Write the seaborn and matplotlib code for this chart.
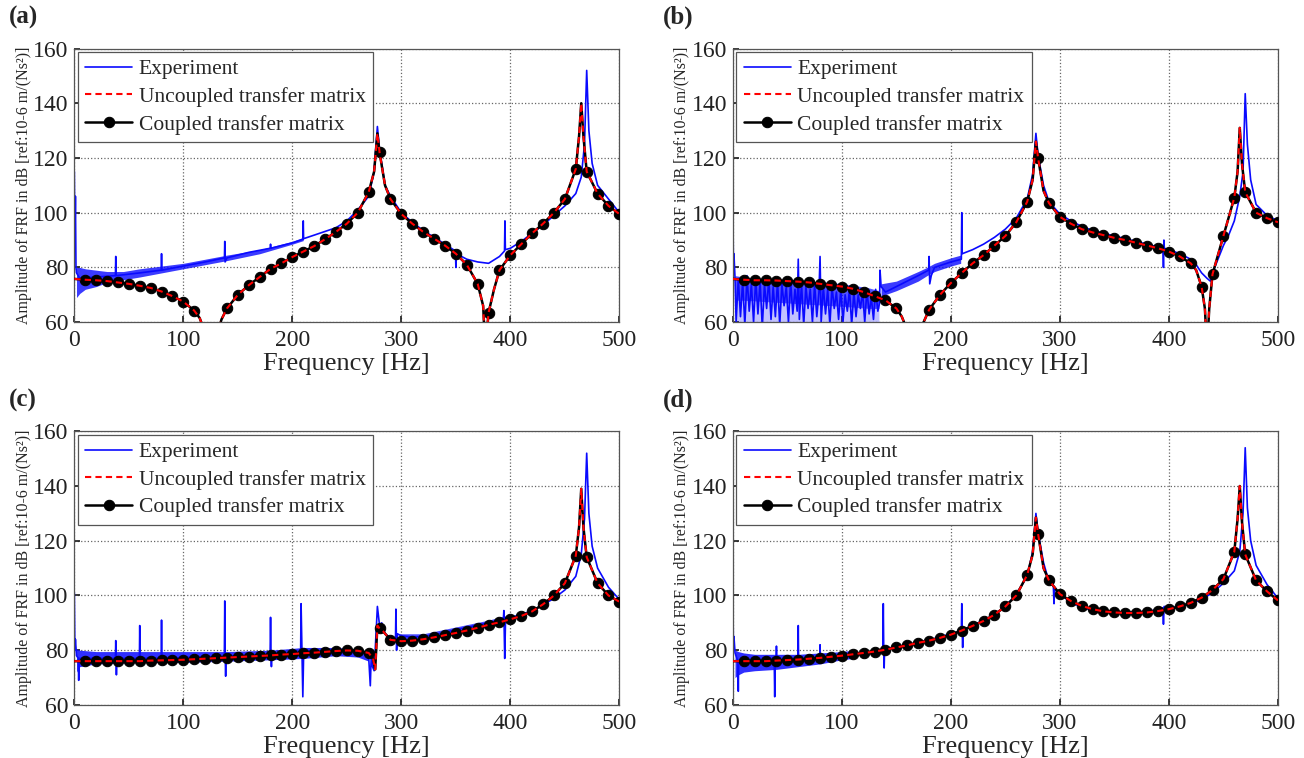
import matplotlib
matplotlib.use("Agg")
import matplotlib.pyplot as plt
import seaborn as sns

# ---- axis / text ----
freq_ticks = [0, 100, 200, 300, 400, 500]
db_ticks = [60, 80, 100, 120, 140, 160]
panel_labels = ["(a)", "(b)", "(c)", "(d)"]
legend_labels = ["Experiment", "Uncoupled transfer matrix", "Coupled transfer matrix"]
xlabel = "Frequency [Hz]"
ylabel = "Amplitude of FRF in dB [ref:10-6 m/(Ns²)]"

# ---- panel (a) ----
model_a_f = [0, 10, 20, 30, 40, 50, 60, 70, 80, 90, 100, 110, 115, 120, 125, 130, 135,
             140, 150, 160, 170, 180, 190, 200, 210, 220, 230, 240, 250, 260, 270,
             275, 278, 280, 285, 290, 300, 310, 320, 330, 340, 350, 360, 370,
             375, 377, 380, 385, 390, 400, 410, 420, 430, 440, 450, 460,
             463, 465, 467, 470, 480, 490, 500]
model_a_db = [75.8, 75.5, 75.3, 75.0, 74.5, 74.0, 73.3, 72.5, 71.2, 69.5, 67.5, 64.2, 61.5, 56, 45, 54, 61,
              65, 70, 73.5, 76.5, 79.5, 81.5, 83.8, 85.8, 87.8, 90.3, 93, 96, 100, 107.5,
              115, 129, 122, 110, 105, 99.5, 96, 93, 90.5, 88, 85, 81, 74,
              66, 50, 63.5, 72, 79, 84.5, 88.5, 92.5, 96, 100, 105, 116,
              128, 140, 128, 115, 107, 102.5, 99.5]
exp_a_f = [0, 0.5, 1, 1.5, 2, 5, 20, 37.7, 38, 38.3, 60, 79.7, 80, 80.3, 100, 120,
           137.7, 138, 138.3, 140, 160, 179.7, 180, 180.3, 200, 209.7, 210, 210.3,
           220, 240, 250, 260, 270, 275, 278, 280, 285, 290, 300, 310, 320, 330, 340,
           349.6, 350, 350.4, 360, 370, 380, 390, 394.6, 395, 395.4,
           400, 410, 420, 430, 440, 450, 460, 465, 468, 470, 472, 475, 480, 490, 500]
exp_a_db = [115, 88, 106, 80, 78, 76, 76.5, 77, 84, 77, 78, 79, 85, 79, 80.5, 82,
            83.5, 89.5, 82, 83.5, 85.5, 87, 88.5, 87, 89, 90.3, 97, 90.5,
            91.8, 94.5, 97, 101, 106, 115, 131.5, 123, 110, 106, 100, 96.5, 93.5, 91, 88.5,
            86, 80, 85, 83, 82, 81.5, 84, 86, 97, 86.5,
            87, 89.5, 92.5, 95.5, 99, 102.5, 107, 113, 125, 152, 130, 118, 110, 105, 100]
band_a_f = [2, 5, 10, 20, 30, 45, 60, 80, 100, 120, 140, 170, 200, 210]
band_a_lo = [69, 70.5, 72, 73, 74.5, 75.5, 76.5, 78, 79.5, 81, 82.5, 85, 88.5, 89.8]
band_a_hi = [80, 80, 79.5, 79, 78.5, 78.5, 79.5, 80.5, 81.5, 83, 84.5, 86.5, 89.5, 91]

# ---- panel (b) ----
model_b_f = [0, 10, 20, 30, 40, 50, 60, 70, 80, 90, 100, 110, 120, 130, 140, 150,
             155, 160, 165, 170, 175, 180, 190, 200, 210, 220, 230, 240, 250, 260, 270,
             275, 278, 280, 285, 290, 300, 310, 320, 330, 340, 350, 360, 370, 380, 390,
             400, 410, 420, 425, 430, 433, 435, 437, 440, 450, 460,
             463, 465, 467, 470, 480, 490, 500]
model_b_db = [75.8, 75.5, 75.3, 75.3, 75.2, 75, 74.8, 74.5, 74, 73.5, 73, 72.2, 71, 69.5, 68, 65,
              62, 57, 45, 56, 60, 64.5, 70, 74.3, 78, 81.5, 84.5, 88, 91.5, 96.5, 104,
              112, 126, 120, 108, 103.5, 98.5, 96, 94, 92.8, 91.8, 90.8, 90, 89, 88, 87,
              85.8, 84, 81.5, 79, 73, 65, 50, 65, 77.5, 91.5, 105.5,
              115, 131, 118, 107.5, 100, 98, 96.5]
exp_b_f = [0, 0.5, 1, 2,
           3, 5, 7, 9, 11, 13, 15, 17, 19, 21, 23, 25, 27, 29, 31, 33, 35, 37, 39, 41,
           43, 45, 47, 49, 51, 53, 55, 57, 59, 60, 61, 63, 65, 67, 69, 71, 73, 75, 77, 79,
           80, 81, 83, 85, 87, 89, 91, 93, 95, 97, 99, 101, 103, 105, 107, 109, 111, 113,
           115, 117, 119, 121, 123, 125, 127, 129, 131, 133,
           134.6, 135, 136,
           140, 150, 160, 170, 179.6, 180, 180.6, 182, 185, 200, 209.6, 210, 210.4,
           220, 230, 240, 250, 260, 270, 275, 278, 280, 285, 290,
           300, 310, 320, 330, 340, 350, 360, 370, 380, 390, 394.6, 395, 395.4, 395.8,
           400, 410, 420, 425, 430, 435, 438, 440, 445, 450, 455, 460,
           465, 468, 470, 472, 475, 480, 490, 500]
exp_b_db = [106, 80, 85, 76,
            60, 76, 62, 75, 59, 77, 64, 74, 60, 76, 63, 75, 58, 74, 65, 76, 61, 73, 62, 75,
            59, 74, 66, 73, 60, 75, 63, 72, 64, 83, 61, 74, 59, 73, 65, 72, 60, 74, 62, 71,
            84, 60, 73, 63, 72, 59, 73, 65, 71, 61, 72, 60, 70, 64, 72, 59, 71, 62,
            70, 65, 71, 60, 72, 63, 69, 61, 72, 64,
            67, 79, 73,
            71, 73, 75, 77, 79, 84, 74, 77, 80, 82, 83, 100, 85,
            86.5, 88.5, 91, 94, 98, 105, 114, 129, 121, 110, 104,
            99.5, 97, 95, 93.5, 92.5, 91.5, 90.5, 89.5, 88.5, 87.5, 87, 80, 90, 87,
            86.5, 85, 83, 81, 78, 76, 75, 78, 83, 88, 92, 97,
            106, 115, 143.5, 125, 112, 103, 99, 97]
band_b1_f = [2, 10, 30, 50, 70, 90, 110, 125, 134]
band_b1_lo = [68, 68, 67.5, 67, 66.5, 66, 65.5, 65, 65]
band_b1_hi = [77, 76.5, 76, 75.5, 75, 74.5, 73.5, 72.5, 71.5]
band_b2_f = [2, 10, 30, 50, 70, 90, 110, 125, 134]
band_b2_lo = [60, 60, 60, 60, 60, 60, 60, 60, 60]
band_b2_hi = [68, 68, 67.5, 67, 66.5, 66, 65.5, 65, 65]
band_b3_f = [136, 150, 170, 178, 185, 200, 209]
band_b3_lo = [69.5, 71.5, 75, 77, 78.5, 80.5, 81.5]
band_b3_hi = [74, 75, 78.5, 80, 81.5, 83.5, 84.5]

# ---- panel (c) ----
model_c_f = [0, 10, 20, 30, 40, 50, 60, 70, 80, 90, 100, 110, 120, 130, 140, 150, 160,
             170, 180, 190, 200, 210, 220, 230, 240, 250, 260, 270, 274, 276, 278, 280,
             283, 290, 300, 310, 320, 330, 340, 350, 360, 370, 380, 390, 400, 410, 420,
             430, 440, 450, 460, 463, 465, 467, 470, 480, 490, 500]
model_c_db = [76, 76, 76, 76, 76, 76, 76, 76.2, 76.3, 76.4, 76.5, 76.7, 76.9, 77.1, 77.3, 77.5, 77.7,
              77.9, 78.1, 78.4, 78.6, 78.9, 79.1, 79.4, 79.7, 79.9, 79.8, 79, 77, 73, 89, 88,
              87, 83.8, 83.3, 83.5, 84, 84.7, 85.5, 86.3, 87.2, 88.2, 89.3, 90.2, 91.3, 92.5, 94.2,
              96.8, 100, 104.5, 114.5, 125, 139, 125, 114, 104.5, 100, 97.7]
exp_c_f = [0, 0.5, 1, 2, 3.7, 4, 4.3, 20, 37.7, 38, 38.3, 38.6, 39, 59.7, 60, 60.3,
           79.7, 80, 80.3, 100, 120, 137.6, 138, 138.4, 138.8, 139.2, 160,
           179.6, 180, 180.4, 180.8, 181.2, 200, 207.6, 208, 208.8, 209.6, 210.4,
           220, 240, 255, 265, 270, 271.5, 272.5, 273.5, 275, 277, 278, 280, 282, 285,
           290, 293, 294.6, 295, 295.6, 296.4, 300, 310, 320, 330, 340, 350, 360, 370,
           380, 390, 393.6, 394, 394.8, 395.6, 400, 410, 420, 430, 440, 450, 460,
           465, 468, 470, 472, 475, 480, 490, 500]
exp_c_db = [101, 80, 84, 78, 77, 69, 77, 77, 77, 83.5, 77, 71, 77, 77, 89, 77,
            77, 91, 77, 77.3, 77.6, 77.5, 98, 78, 70.5, 77.8, 78.2,
            78.5, 92, 78.5, 74, 78.6, 79, 79.5, 97, 80, 63, 80,
            79.5, 80.3, 79.8, 79, 77.5, 67, 80, 74, 72.5, 88, 96, 89, 90, 86,
            84.5, 84, 83.5, 95, 80, 86, 85.2, 84.8, 85, 85.6, 86.5, 87.5, 88.3, 89.2,
            90, 91, 91.5, 94.5, 77, 92, 92, 93, 94.5, 96.5, 99, 102, 107,
            115, 128, 152, 130, 118, 110, 103, 98.5]
band_c1_f = [2, 5, 20, 60, 100, 140, 180, 210, 240, 260, 270]
band_c1_lo = [72, 74, 75, 75.5, 75.5, 76, 76.5, 77, 78, 77.5, 76]
band_c1_hi = [80.5, 80, 79.5, 79.5, 79.5, 79.5, 80, 81, 81, 80.5, 79.5]
band_c2_f = [298, 320, 350, 380, 394]
band_c2_lo = [83.5, 84, 86, 88.5, 90]
band_c2_hi = [86, 86, 88.5, 91, 92.5]

# ---- panel (d) ----
model_d_f = [0, 10, 20, 30, 40, 50, 60, 70, 80, 90, 100, 110, 120, 130, 140, 150, 160,
             170, 180, 190, 200, 210, 220, 230, 240, 250, 260, 270, 275, 278, 280, 285,
             290, 300, 310, 320, 330, 340, 350, 360, 370, 380, 390, 400, 410, 420, 430,
             440, 450, 460, 463, 465, 467, 470, 480, 490, 500]
model_d_db = [76, 76, 76, 76, 76.2, 76.4, 76.6, 76.9, 77.2, 77.6, 78, 78.5, 79, 79.5, 80.2, 81, 81.8,
              82.7, 83.5, 84.5, 85.7, 87.2, 88.9, 90.7, 93, 96, 100, 107.5, 115, 128.5, 122.5, 110,
              105.5, 100.5, 98, 96.2, 95, 94.2, 93.8, 93.6, 93.6, 93.8, 94.3, 95, 96, 97.3, 99.2,
              102, 106, 116, 128, 140, 127, 115, 105.5, 101.5, 98.2]
exp_d_f = [0, 0.5, 1, 2, 4.7, 5, 5.3, 20, 37.7, 38, 38.4, 38.8, 39.6, 40, 40.4,
           59.7, 60, 60.3, 79.7, 80, 80.3, 100, 120, 137.6, 138, 138.4, 138.8, 139.2,
           160, 180, 200, 209.6, 210, 210.4, 210.8, 211.2, 220, 240, 250, 260, 270,
           275, 278, 280, 285, 290, 294, 294.6, 295.2, 296, 300, 310, 320, 330, 340,
           350, 360, 370, 380, 390, 394.4, 395, 395.6, 400, 410, 420, 430, 440, 450,
           460, 465, 468, 470, 472, 475, 480, 490, 500]
exp_d_db = [103, 80, 85, 79, 76, 65, 76, 76, 75.5, 75, 63, 75, 76, 81.5, 76,
            76.5, 89, 76.5, 77, 82, 77, 78, 79, 80, 97, 80.5, 73.5, 80.5,
            82, 83.7, 86, 87, 97, 87.5, 81, 87.5, 89, 93, 96, 100.5, 107,
            116, 130, 123, 112, 105, 103.5, 97, 103, 102, 100.5, 97.5, 95.7, 94.5, 94,
            93.8, 93.8, 94, 94.2, 94.8, 95.5, 89.5, 96, 95.5, 96, 97, 98.5, 101, 104.5,
            109, 116, 130, 154, 132, 120, 111, 104, 99]
band_d_f = [2, 5, 10, 20, 40, 60, 80, 100, 110]
band_d_lo = [70, 71, 72, 72.5, 73, 74, 75, 76.5, 77]
band_d_hi = [80, 79.5, 79, 78.5, 78.5, 78.5, 79, 79.5, 80]

BLUE = "#0a0aff"
RED = "#ff0000"

panels = [
    (model_a_f, model_a_db, exp_a_f, exp_a_db,
     [(band_a_f, band_a_lo, band_a_hi, 0.8)]),
    (model_b_f, model_b_db, exp_b_f, exp_b_db,
     [(band_b1_f, band_b1_lo, band_b1_hi, 0.7), (band_b2_f, band_b2_lo, band_b2_hi, 0.25),
      (band_b3_f, band_b3_lo, band_b3_hi, 0.8)]),
    (model_c_f, model_c_db, exp_c_f, exp_c_db,
     [(band_c1_f, band_c1_lo, band_c1_hi, 0.85), (band_c2_f, band_c2_lo, band_c2_hi, 0.75)]),
    (model_d_f, model_d_db, exp_d_f, exp_d_db,
     [(band_d_f, band_d_lo, band_d_hi, 0.85)]),
]

# axes rectangles in figure fractions, and where the panel letter goes
rects = [[0.057, 0.575, 0.418, 0.361], [0.562, 0.575, 0.418, 0.361],
         [0.057, 0.070, 0.418, 0.361], [0.562, 0.070, 0.418, 0.361]]
letter_pos = [(0.007, 0.992), (0.508, 0.992), (0.007, 0.487), (0.508, 0.487)]

sns.set_theme(style="ticks")
plt.rcParams["font.family"] = ["Liberation Serif", "DejaVu Serif"]

fig = plt.figure(figsize=(13.04, 7.58), dpi=100)

for i, (mf, mdb, ef, edb, bands) in enumerate(panels):
    ax = fig.add_axes(rects[i])

    for bf, blo, bhi, alpha in bands:
        ax.fill_between(bf, blo, bhi, color=BLUE, alpha=alpha, lw=0, zorder=2)
    sns.lineplot(x=ef, y=edb, ax=ax, color=BLUE, lw=1.2, estimator=None, sort=False, zorder=2)
    h_exp = ax.get_lines()[-1]

    marks = [k for k, f in enumerate(mf) if f % 10 == 0 and f > 0]
    sns.lineplot(x=mf, y=mdb, ax=ax, color="black", lw=1.8, marker="o", markersize=7.5,
                 markeredgecolor="black", markevery=marks, estimator=None, sort=False, zorder=3)
    h_cpl = ax.get_lines()[-1]
    sns.lineplot(x=mf, y=mdb, ax=ax, color=RED, lw=1.5, linestyle=(0, (3, 2)),
                 estimator=None, sort=False, zorder=4)
    h_unc = ax.get_lines()[-1]

    ax.set_xlim(0, 500)
    ax.set_ylim(60, 160)
    ax.set_xticks(freq_ticks)
    ax.set_yticks(db_ticks)
    ax.tick_params(labelsize=17, direction="in", length=4, colors="#222222")
    ax.tick_params(axis="x", pad=6)
    ax.tick_params(axis="y", pad=4)
    ax.grid(True, linestyle=":", color="#666666", linewidth=0.9)
    for s in ax.spines.values():
        s.set_color("#555555")
        s.set_linewidth(0.9)
    ax.set_xlabel(xlabel, fontsize=19, labelpad=1)
    ax.set_ylabel(ylabel, fontsize=11.5, labelpad=1)

    leg = ax.legend([h_exp, h_unc, h_cpl], legend_labels, loc="upper left", fontsize=15.5,
                    frameon=True, fancybox=False, framealpha=1, edgecolor="#555555",
                    handlelength=2.2, handletextpad=0.3, labelspacing=0.35,
                    borderpad=0.35, borderaxespad=0.15)
    leg.get_frame().set_linewidth(0.9)

    fig.text(letter_pos[i][0], letter_pos[i][1], panel_labels[i], fontsize=18,
             fontweight="bold", va="top", ha="left")

fig.savefig("out.png", dpi=100)
plt.close(fig)
